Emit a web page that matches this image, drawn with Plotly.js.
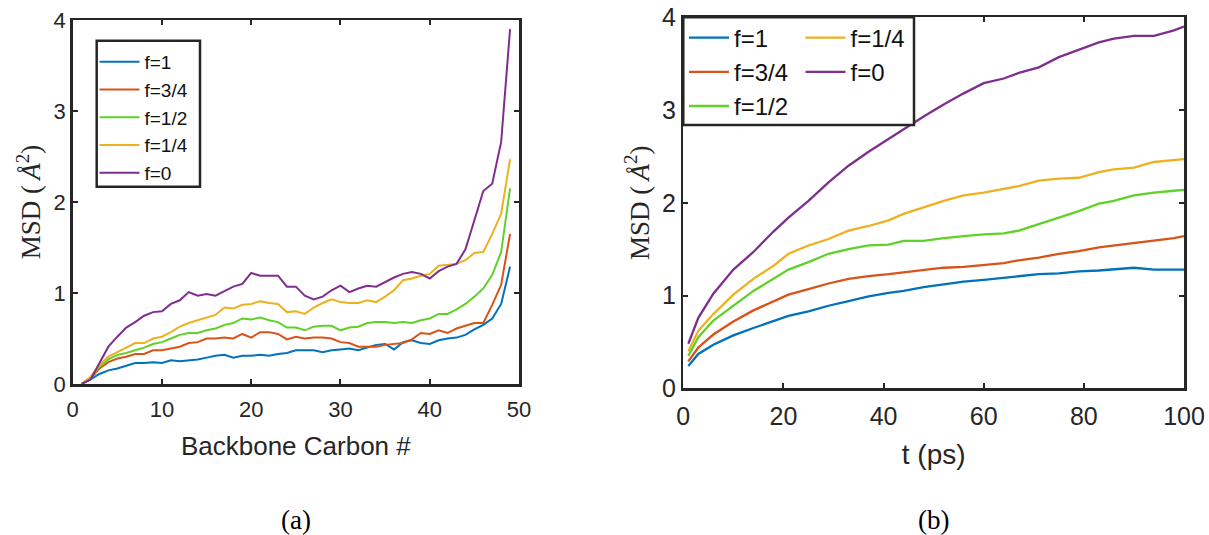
<!DOCTYPE html>
<html>
<head>
<meta charset="utf-8">
<script src="https://cdn.plot.ly/plotly-3.0.1.min.js"></script>
<style>html,body{margin:0;padding:0;background:#fff;}#chart{width:1209px;height:535px;}</style>
</head>
<body>
<div id="chart"></div>
<script>
// ---------- Panel (a): MSD vs backbone carbon index ----------
const carbon = [1,2,3,4,5,6,7,8,9,10,11,12,13,14,15,16,17,18,19,20,21,22,23,24,25,26,27,28,29,30,31,32,33,34,35,36,37,38,39,40,41,42,43,44,45,46,47,48,49];
const msdA_f1  = [0,0.05,0.11,0.15,0.17,0.20,0.23,0.23,0.24,0.23,0.26,0.25,0.26,0.27,0.29,0.31,0.32,0.29,0.31,0.31,0.32,0.31,0.33,0.34,0.37,0.37,0.37,0.35,0.37,0.38,0.39,0.37,0.40,0.43,0.44,0.38,0.46,0.48,0.45,0.44,0.48,0.50,0.51,0.54,0.60,0.65,0.72,0.88,1.29];
const msdA_f34 = [0,0.06,0.17,0.24,0.28,0.30,0.33,0.33,0.37,0.37,0.39,0.41,0.45,0.46,0.50,0.50,0.51,0.50,0.55,0.51,0.57,0.57,0.55,0.49,0.52,0.50,0.51,0.51,0.50,0.46,0.45,0.41,0.41,0.41,0.43,0.44,0.45,0.49,0.56,0.55,0.59,0.56,0.61,0.64,0.67,0.67,0.87,1.09,1.65];
const msdA_f12 = [0,0.07,0.19,0.27,0.32,0.34,0.37,0.40,0.44,0.46,0.50,0.54,0.56,0.56,0.59,0.61,0.65,0.67,0.72,0.71,0.73,0.70,0.68,0.62,0.62,0.59,0.63,0.64,0.64,0.59,0.62,0.63,0.67,0.68,0.68,0.67,0.68,0.67,0.70,0.72,0.77,0.77,0.82,0.88,0.96,1.05,1.20,1.45,2.15];
const msdA_f14 = [0,0.08,0.21,0.30,0.35,0.40,0.45,0.45,0.50,0.52,0.57,0.63,0.67,0.70,0.73,0.76,0.84,0.83,0.87,0.88,0.91,0.89,0.88,0.79,0.80,0.77,0.84,0.89,0.93,0.90,0.89,0.89,0.92,0.90,0.96,1.03,1.14,1.16,1.19,1.21,1.30,1.31,1.32,1.36,1.44,1.45,1.65,1.87,2.47];
const msdA_f0  = [0,0.05,0.23,0.41,0.52,0.62,0.68,0.75,0.79,0.80,0.88,0.92,1.01,0.97,0.99,0.97,1.02,1.07,1.10,1.22,1.19,1.19,1.19,1.07,1.07,0.97,0.93,0.96,1.03,1.08,1.01,1.05,1.08,1.07,1.12,1.17,1.21,1.23,1.21,1.16,1.24,1.29,1.32,1.48,1.80,2.12,2.20,2.66,3.90];

// ---------- Panel (b): MSD vs time ----------
const timePs = [1,3,6,10,14,18,21,25,29,33,37,41,44,48,52,56,60,64,67,71,75,79,83,86,90,94,98,100];
const msdB_f1  = [0.24,0.37,0.47,0.57,0.65,0.72,0.78,0.83,0.89,0.94,0.99,1.03,1.05,1.09,1.12,1.15,1.17,1.19,1.21,1.23,1.24,1.26,1.27,1.28,1.30,1.28,1.28,1.28];
const msdB_f34 = [0.29,0.44,0.58,0.72,0.84,0.94,1.01,1.07,1.13,1.18,1.21,1.23,1.25,1.28,1.30,1.31,1.33,1.35,1.38,1.41,1.45,1.48,1.52,1.54,1.57,1.59,1.62,1.64];
const msdB_f12 = [0.35,0.55,0.73,0.89,1.05,1.18,1.28,1.36,1.45,1.50,1.54,1.55,1.59,1.59,1.62,1.64,1.66,1.67,1.70,1.77,1.84,1.91,1.99,2.02,2.08,2.11,2.13,2.14];
const msdB_f14 = [0.40,0.62,0.80,1.01,1.18,1.32,1.45,1.54,1.61,1.70,1.75,1.81,1.88,1.95,2.02,2.08,2.11,2.15,2.18,2.24,2.26,2.27,2.33,2.36,2.38,2.44,2.46,2.47];
const msdB_f0  = [0.48,0.76,1.02,1.28,1.47,1.69,1.84,2.02,2.22,2.40,2.55,2.69,2.79,2.93,3.06,3.18,3.29,3.34,3.40,3.46,3.57,3.65,3.73,3.77,3.80,3.80,3.86,3.90];

const seriesNames = ['f=1','f=3/4','f=1/2','f=1/4','f=0'];
const seriesColors = ['#0072BD','#D95319','#5FD127','#EDB120','#7E2F8E'];
const panelA = [msdA_f1, msdA_f34, msdA_f12, msdA_f14, msdA_f0];
const panelB = [msdB_f1, msdB_f34, msdB_f12, msdB_f14, msdB_f0];

const W = 1209, H = 535;
const px = v => v / W;
const py = v => (H - v) / H;
const ink = '#262626';
const sans = 'Liberation Sans, Arial, sans-serif';
const serif = 'Liberation Serif, Times New Roman, serif';

const traces = [];
panelA.forEach((ys, i) => {
  traces.push({x: carbon, y: ys, type: 'scatter', mode: 'lines', name: seriesNames[i],
    line: {color: seriesColors[i], width: 2}, xaxis: 'x', yaxis: 'y', legend: 'legend'});
});
panelB.forEach((ys, i) => {
  traces.push({x: timePs, y: ys, type: 'scatter', mode: 'lines', name: seriesNames[i],
    line: {color: seriesColors[i], width: 2.3}, xaxis: 'x2', yaxis: 'y2',
    legend: (i < 3 ? 'legend2' : 'legend3')});
});

function axisBase(fs) {
  return {
    showline: true, linecolor: ink, linewidth: 2.5, mirror: 'ticks',
    ticks: 'inside', ticklen: 5, tickwidth: 2, tickcolor: ink,
    showgrid: false, zeroline: false, fixedrange: true,
    tickfont: {family: sans, size: fs, color: ink}
  };
}
const yTitleText = 'MSD (&#8201;<i>Å</i><sup>2</sup>)';

const layout = {
  width: W, height: H,
  margin: {l: 0, r: 0, t: 0, b: 0},
  paper_bgcolor: '#ffffff', plot_bgcolor: '#ffffff',
  showlegend: true,
  xaxis: Object.assign(axisBase(22), {domain: [px(72.7), px(519)], range: [0, 50], tickvals: [0,10,20,30,40,50],
    ticklabelstandoff: 4, anchor: 'y',
    title: {text: 'Backbone Carbon #', standoff: 16, font: {family: sans, size: 26, color: ink}}}),
  yaxis: Object.assign(axisBase(22), {domain: [py(384), py(20)], range: [0, 4], tickvals: [0,1,2,3,4],
    anchor: 'x', title: {text: yTitleText, standoff: 5, font: {family: serif, size: 27, color: ink}}}),
  xaxis2: Object.assign(axisBase(25), {domain: [px(683.3), px(1184)], range: [0, 100], tickvals: [0,20,40,60,80,100],
    ticklabelstandoff: 4, anchor: 'y2',
    title: {text: 't (ps)', standoff: 16, font: {family: sans, size: 28, color: ink}}}),
  yaxis2: Object.assign(axisBase(25), {domain: [py(388.3), py(17.3)], range: [0, 4], tickvals: [0,1,2,3,4],
    anchor: 'x2', title: {text: yTitleText, standoff: 5, font: {family: serif, size: 27, color: ink}}}),
  legend: {x: px(94.5), y: py(43), xanchor: 'left', yanchor: 'top',
    bgcolor: 'rgba(0,0,0,0)', borderwidth: 0, itemwidth: 40,
    font: {family: sans, size: 19, color: '#111'}},
  legend2: {x: px(684), y: py(15.5), xanchor: 'left', yanchor: 'top',
    bgcolor: 'rgba(0,0,0,0)', borderwidth: 0, itemwidth: 40,
    font: {family: sans, size: 24, color: '#111'}},
  legend3: {x: px(800.5), y: py(15.5), xanchor: 'left', yanchor: 'top',
    bgcolor: 'rgba(0,0,0,0)', borderwidth: 0, itemwidth: 40,
    font: {family: sans, size: 24, color: '#111'}},
  shapes: [
    {type: 'rect', xref: 'paper', yref: 'paper', layer: 'above',
     x0: px(96.7), x1: px(200), y0: py(186.7), y1: py(40.7),
     fillcolor: '#ffffff', line: {color: ink, width: 2.5}},
    {type: 'rect', xref: 'paper', yref: 'paper', layer: 'above',
     x0: px(683.3), x1: px(914), y0: py(125), y1: py(17.3),
     fillcolor: '#ffffff', line: {color: ink, width: 2.5}}
  ],
  annotations: [
    {text: '(a)', xref: 'paper', yref: 'paper', x: px(296), y: py(520), showarrow: false,
     xanchor: 'center', yanchor: 'middle', font: {family: serif, size: 27, color: '#000'}},
    {text: '(b)', xref: 'paper', yref: 'paper', x: px(933.5), y: py(520), showarrow: false,
     xanchor: 'center', yanchor: 'middle', font: {family: serif, size: 27, color: '#000'}}
  ]
};

Plotly.newPlot('chart', traces, layout, {staticPlot: true, displayModeBar: false});
</script>
</body>
</html>
